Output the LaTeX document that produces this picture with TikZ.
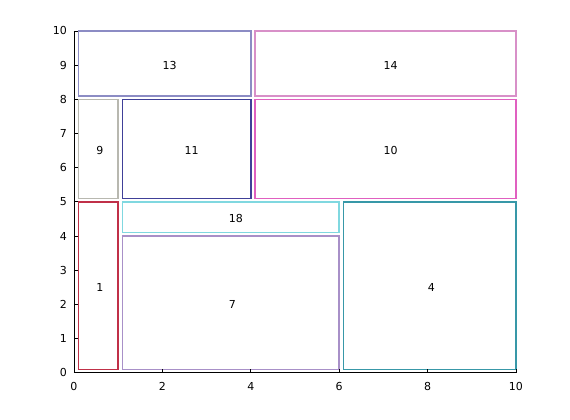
\documentclass[tikz,border=0pt]{standalone}
\usepackage{fontspec}
\setmainfont{DejaVu Sans}
\definecolor{cA}{HTML}{C03048}
\definecolor{cB}{HTML}{A890C8}
\definecolor{cC}{HTML}{80D8E0}
\definecolor{cD}{HTML}{3898A8}
\definecolor{cE}{HTML}{B8B8B0}
\definecolor{cF}{HTML}{404098}
\definecolor{cG}{HTML}{E060C0}
\definecolor{cH}{HTML}{8C8CC4}
\definecolor{cI}{HTML}{D890C8}
\begin{document}
\begin{tikzpicture}[x=44.2pt,y=34.17pt,
  box/.style={line width=1.5pt},
  lab/.style={anchor=west,inner sep=0pt,font=\fontsize{11}{13}\selectfont},
  tick/.style={line width=0.8pt},
  ticklab/.style={inner sep=0pt,font=\fontsize{11}{13}\selectfont}]
\useasboundingbox (-1.674,-1.384) rectangle (11.222,10.907);
% boxes
\draw[box,draw=cA] (0.1,0.1) rectangle (1.0,5.0);
\draw[box,draw=cB] (1.1,0.1) rectangle (6.0,4.0);
\draw[box,draw=cC] (1.1,4.1) rectangle (6.0,5.0);
\draw[box,draw=cD] (6.1,0.1) rectangle (10.0,5.0);
\draw[box,draw=cE] (0.1,5.1) rectangle (1.0,8.0);
\draw[box,draw=cF] (1.1,5.1) rectangle (4.0,8.0);
\draw[box,draw=cG] (4.1,5.1) rectangle (10.0,8.0);
\draw[box,draw=cH] (0.1,8.1) rectangle (4.0,10.0);
\draw[box,draw=cI] (4.1,8.1) rectangle (10.0,10.0);
% labels
\node[lab] (l1) at (0.5,2.5) {1};
\node[lab] (l7) at (3.5,2.0) {7};
\node[lab] (l18) at (3.5,4.5) {18};
\node[lab] (l4) at (8.0,2.5) {4};
\node[lab] (l9) at (0.5,6.5) {9};
\node[lab] (l11) at (2.5,6.5) {11};
\node[lab] (l10) at (7.0,6.5) {10};
\node[lab] (l13) at (2.0,9.0) {13};
\node[lab] (l14) at (7.0,9.0) {14};
% axes
\coordinate (o) at (0,0);
\coordinate (xe) at (10,0);
\coordinate (ye) at (0,10);
\draw[tick,black] (ye) -- (o) -- (xe);
\foreach \v in {0,...,10} {
  \draw[tick] (0,\v) -- ++(4pt,0);
  \node[ticklab,anchor=east] (yl\v) at ([xshift=-7pt]0,\v) {\v};
}
\foreach \v in {0,2,...,10} {
  \draw[tick] (\v,0) -- ++(0,4pt);
  \node[ticklab,anchor=center] (xl\v) at ([yshift=-14pt]\v,0) {\v};
}
\end{tikzpicture}
\end{document}
